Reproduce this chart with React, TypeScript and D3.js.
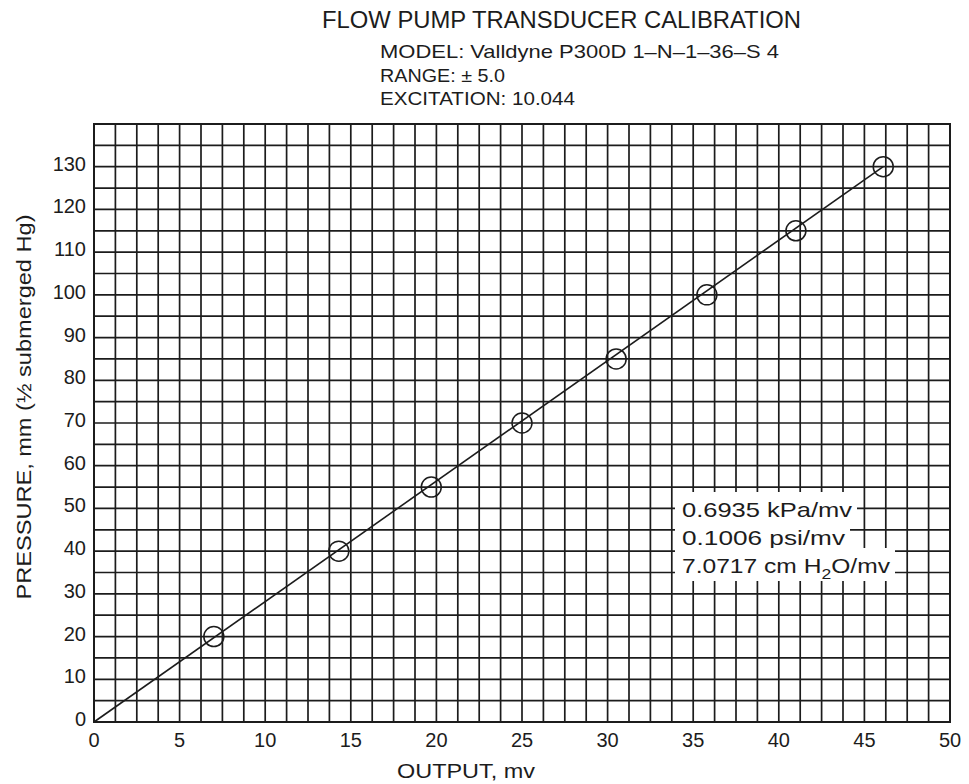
import React, { useRef, useEffect } from "react";
import * as d3 from "d3";

// calibration points
const outputMv = [7.0, 14.3, 19.7, 25.0, 30.5, 35.8, 41.0, 46.1];
const pressureMm = [20, 40, 55, 70, 85, 100, 115, 130];
// fitted line end points (output, pressure)
const fitOutput = [0, 46.1];
const fitPressure = [0, 130];

const xTicks = [0, 5, 10, 15, 20, 25, 30, 35, 40, 45, 50];
const yTicks = [0, 10, 20, 30, 40, 50, 60, 70, 80, 90, 100, 110, 120, 130];

const title = "FLOW PUMP TRANSDUCER CALIBRATION";
const headerLines = ["MODEL: Valldyne  P300D  1\u2013N\u20131\u201336\u2013S 4", "RANGE: \u00b1 5.0", "EXCITATION: 10.044"];
const slopeLines = ["0.6935 kPa/mv", "0.1006 psi/mv", "7.0717 cm H2O/mv"];

const App = () => {
  const svgRef = useRef<SVGSVGElement>(null);

  useEffect(() => {
    const width = 969;
    const height = 784;
    const ink = "#1c1c1c";
    const font = "'Liberation Sans', Arial, sans-serif";

    const svg = d3.select(svgRef.current)
      .attr("width", width)
      .attr("height", height)
      .attr("font-family", font);
    svg.selectAll("*").remove();

    svg.append("rect").attr("width", width).attr("height", height).attr("fill", "#fff");

    const x = d3.scaleLinear().domain([0, 50]).range([94, 950]);
    const y = d3.scaleLinear().domain([0, 140]).range([722, 124]);

    // grid: 1.25 mv columns, 5 mm rows
    const grid = svg.append("g").attr("stroke", ink).attr("stroke-width", 1.7);
    grid.selectAll("line.v")
      .data(d3.range(0, 50.001, 1.25))
      .join("line")
        .attr("class", "v")
        .attr("x1", d => x(d)).attr("x2", d => x(d))
        .attr("y1", y(0)).attr("y2", y(140));
    grid.selectAll("line.h")
      .data(d3.range(0, 140.001, 5))
      .join("line")
        .attr("class", "h")
        .attr("x1", x(0)).attr("x2", x(50))
        .attr("y1", d => y(d)).attr("y2", d => y(d));
    svg.append("rect")
      .attr("x", x(0)).attr("y", y(140))
      .attr("width", x(50) - x(0)).attr("height", y(0) - y(140))
      .attr("fill", "none").attr("stroke", ink).attr("stroke-width", 2);

    // fit line + data circles
    const line = d3.line<number>().x(d => x(fitOutput[d])).y(d => y(fitPressure[d]));
    svg.append("path")
      .attr("d", line([0, 1]))
      .attr("fill", "none").attr("stroke", ink).attr("stroke-width", 1.6);
    svg.append("g")
      .selectAll("circle")
      .data(outputMv)
      .join("circle")
        .attr("cx", d => x(d))
        .attr("cy", (d, i) => y(pressureMm[i]))
        .attr("r", 10)
        .attr("fill", "none").attr("stroke", ink).attr("stroke-width", 1.5);

    // slope box
    const slopeWidths = [170, 163, 208];
    const box = svg.append("g").attr("font-size", 21).attr("fill", ink);
    slopeLines.forEach((s, i) => {
      const row = box.append("g");
      const t = row.append("text")
        .attr("x", 682).attr("y", 517 + i * 28)
        .attr("textLength", slopeWidths[i]).attr("lengthAdjust", "spacingAndGlyphs");
      const parts = s.split(/(?<=H)2(?=O)/);
      parts.forEach((p, j) => {
        if (j > 0) t.append("tspan").attr("font-size", 15).attr("dy", 6).text("2");
        t.append("tspan").attr("dy", j > 0 ? -6 : 0).text(p);
      });
      row.insert("rect", "text")
        .attr("x", 675).attr("y", 517 + i * 28 - 25)
        .attr("width", slopeWidths[i] + 12).attr("height", i === 2 ? 33 : 28)
        .attr("fill", "#fff");
    });

    // tick labels
    svg.append("g")
      .attr("font-size", 20).attr("fill", ink).attr("text-anchor", "end")
      .selectAll("text")
      .data(yTicks)
      .join("text")
        .attr("x", 86)
        .attr("y", d => y(d) + 4)
        .text(d => d);
    svg.append("g")
      .attr("font-size", 20).attr("fill", ink).attr("text-anchor", "middle")
      .selectAll("text")
      .data(xTicks)
      .join("text")
        .attr("x", d => x(d))
        .attr("y", 747)
        .text(d => d);

    // axis titles
    svg.append("text")
      .attr("x", 397).attr("y", 778)
      .attr("font-size", 20).attr("fill", ink)
      .attr("textLength", 138).attr("lengthAdjust", "spacingAndGlyphs")
      .text("OUTPUT, mv");
    svg.append("text")
      .attr("transform", "translate(31,407) rotate(-90)")
      .attr("text-anchor", "middle")
      .attr("font-size", 21).attr("fill", ink)
      .attr("textLength", 385).attr("lengthAdjust", "spacingAndGlyphs")
      .text("PRESSURE, mm (\u00bd submerged Hg)");

    // header
    svg.append("text")
      .attr("x", 322).attr("y", 28)
      .attr("font-size", 24).attr("fill", ink)
      .attr("textLength", 479).attr("lengthAdjust", "spacingAndGlyphs")
      .text(title);
    const headerWidths = [399, 125, 195];
    svg.append("g")
      .attr("font-size", 19).attr("fill", ink)
      .selectAll("text")
      .data(headerLines)
      .join("text")
        .attr("x", 380)
        .attr("y", (d, i) => [58, 82, 105][i])
        .attr("textLength", (d, i) => headerWidths[i])
        .attr("lengthAdjust", "spacingAndGlyphs")
        .text(d => d);
  }, []);

  return <svg ref={svgRef} style={{ position: "absolute", left: 0, top: 0 }} />;
};

export default App;
